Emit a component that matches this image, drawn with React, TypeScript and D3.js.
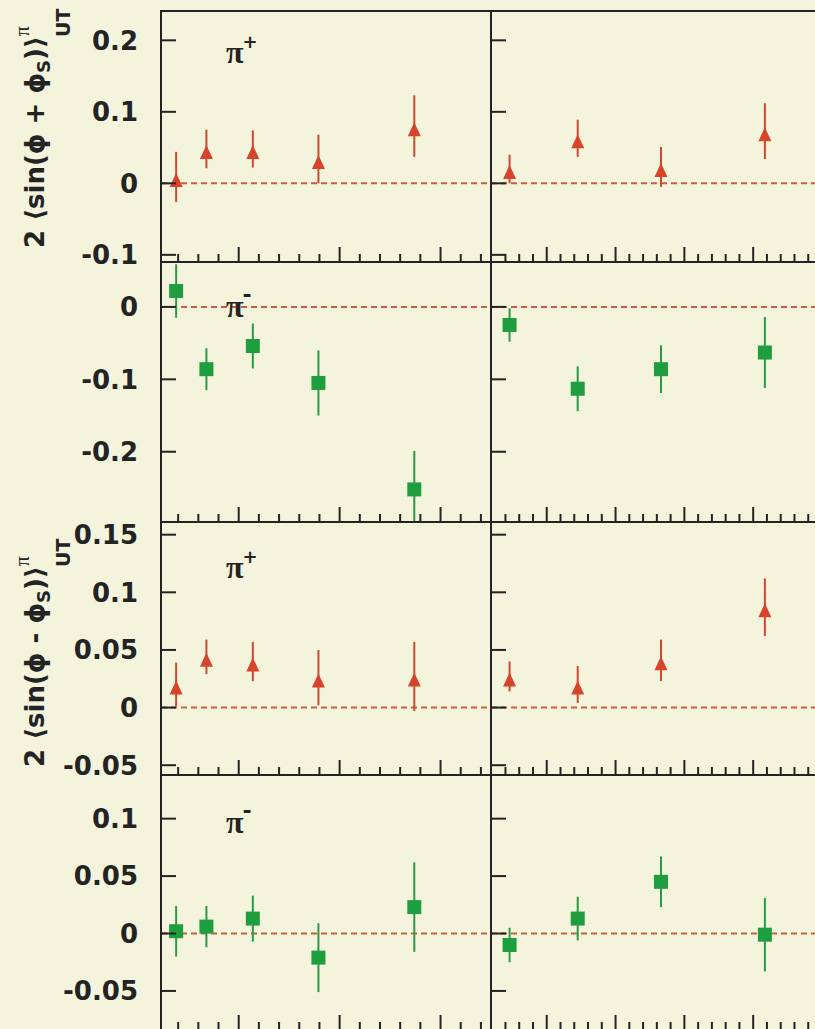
import React from 'react';
import * as d3 from 'd3';

// ---- data ----
const xBins = [0.038, 0.068, 0.114, 0.179, 0.274];
const zBins = [0.246, 0.345, 0.466, 0.617];

const collinsPipX = [0.009, 0.048, 0.048, 0.034, 0.080];
const collinsPipXErr = [0.035, 0.027, 0.026, 0.034, 0.043];
const collinsPipZ = [0.020, 0.063, 0.023, 0.073];
const collinsPipZErr = [0.020, 0.026, 0.028, 0.039];

const collinsPimX = [0.022, -0.086, -0.054, -0.105, -0.252];
const collinsPimXErr = [0.037, 0.029, 0.031, 0.045, 0.053];
const collinsPimZ = [-0.025, -0.113, -0.086, -0.063];
const collinsPimZErr = [0.023, 0.031, 0.033, 0.049];

const siversPipX = [0.020, 0.044, 0.040, 0.026, 0.027];
const siversPipXErr = [0.019, 0.015, 0.017, 0.024, 0.030];
const siversPipZ = [0.027, 0.020, 0.041, 0.087];
const siversPipZErr = [0.013, 0.016, 0.018, 0.025];

const siversPimX = [0.002, 0.006, 0.013, -0.021, 0.023];
const siversPimXErr = [0.022, 0.018, 0.020, 0.030, 0.039];
const siversPimZ = [-0.010, 0.013, 0.045, -0.001];
const siversPimZErr = [0.015, 0.019, 0.022, 0.032];

const xDomain = [0.023, 0.35];
const zDomain = [0.219, 0.70];
const xMajorTicks = [0.1, 0.2, 0.3];
const xMinorTicks = [0.04, 0.06, 0.08, 0.12, 0.14, 0.16, 0.18, 0.22, 0.24, 0.26, 0.28, 0.32, 0.34];
const zMajorTicks = [0.3, 0.4, 0.5, 0.6, 0.7];
const zMinorTicks = [0.24, 0.26, 0.28, 0.32, 0.34, 0.36, 0.38, 0.42, 0.44, 0.46, 0.48, 0.52, 0.54, 0.56, 0.58, 0.62, 0.64, 0.66, 0.68];

const rowDomains = [[-0.110, 0.241], [-0.297, 0.062], [-0.0585, 0.161], [-0.084, 0.138]];
const rowTicks = [[0.2, 0.1, 0, -0.1], [0, -0.1, -0.2], [0.15, 0.1, 0.05, 0, -0.05], [0.1, 0.05, 0, -0.05]];
const rowTickLabels = [
  ['0.2', '0.1', '0', '-0.1'],
  ['0', '-0.1', '-0.2'],
  ['0.15', '0.1', '0.05', '0', '-0.05'],
  ['0.1', '0.05', '0', '-0.05'],
];
const rowPion = ['+', '-', '+', '-'];
const rowValuesX = [collinsPipX, collinsPimX, siversPipX, siversPimX];
const rowErrsX = [collinsPipXErr, collinsPimXErr, siversPipXErr, siversPimXErr];
const rowValuesZ = [collinsPipZ, collinsPimZ, siversPipZ, siversPimZ];
const rowErrsZ = [collinsPipZErr, collinsPimZErr, siversPipZErr, siversPimZErr];

// ---- layout ----
const W = 815;
const H = 1029;
const rowTop = [11, 262, 522, 775];
const rowBottom = [262, 522, 775, 1030];
const labelBaseline = [52, 55, 56, 58];
const colLeft = [161, 491];
const colRight = [491, 822];

const BG = '#f4f4dd';
const INK = '#232323';
const RED = '#d8432a';
const RED_BAR = '#cc4a2f';
const GREEN = '#1e9e3e';
const GREEN_BAR = '#2b9a45';
const ZERO = '#c8603f';

function Panel({ row, col }: { row: number; col: number }) {
  const x0 = colLeft[col];
  const x1 = colRight[col];
  const y0 = rowTop[row];
  const y1 = rowBottom[row];
  const xs = d3.scaleLinear().domain(col === 0 ? xDomain : zDomain).range([x0, x1]);
  const ys = d3.scaleLinear().domain(rowDomains[row]).range([y1, y0]);
  const bins = col === 0 ? xBins : zBins;
  const vals = col === 0 ? rowValuesX[row] : rowValuesZ[row];
  const errs = col === 0 ? rowErrsX[row] : rowErrsZ[row];
  const majors = col === 0 ? xMajorTicks : zMajorTicks;
  const minors = col === 0 ? xMinorTicks : zMinorTicks;
  const plus = rowPion[row] === '+';
  const clipId = `clip-${row}-${col}`;
  return (
    <g>
      <defs>
        <clipPath id={clipId}>
          <rect x={x0} y={y0} width={x1 - x0} height={y1 - y0} />
        </clipPath>
      </defs>
      <g clipPath={`url(#${clipId})`}>
        <line x1={x0} x2={x1} y1={ys(0)} y2={ys(0)} stroke={ZERO} strokeWidth={2} strokeDasharray="6,4" />
        {bins.map((b, i) => (
          <line key={'e' + i} x1={xs(b)} x2={xs(b)} y1={ys(vals[i] + errs[i])} y2={ys(vals[i] - errs[i])}
            stroke={plus ? RED_BAR : GREEN_BAR} strokeWidth={2} />
        ))}
        {bins.map((b, i) => {
          const cx = xs(b);
          const cy = ys(vals[i]);
          return plus ? (
            <path key={'m' + i} d={`M${cx},${cy - 4}L${cx + 6.5},${cy + 10}L${cx - 6.5},${cy + 10}Z`} fill={RED} />
          ) : (
            <rect key={'m' + i} x={cx - 7} y={cy - 7} width={14} height={14} fill={GREEN} />
          );
        })}
      </g>
      {rowTicks[row].map((t, i) => (
        <line key={'yt' + i} x1={x0} x2={x0 + 15} y1={ys(t)} y2={ys(t)} stroke={INK} strokeWidth={2} />
      ))}
      {majors.map((t, i) => (
        <line key={'xM' + i} x1={xs(t)} x2={xs(t)} y1={y1} y2={y1 - 15} stroke={INK} strokeWidth={2} />
      ))}
      {minors.map((t, i) => (
        <line key={'xm' + i} x1={xs(t)} x2={xs(t)} y1={y1} y2={y1 - 8} stroke={INK} strokeWidth={2} />
      ))}
      <rect x={x0} y={y0} width={x1 - x0} height={y1 - y0} fill="none" stroke={INK} strokeWidth={2} />
      {col === 0 &&
        rowTicks[row].map((t, i) => (
          <text key={'yl' + i} x={138} y={ys(t)} dy="0.36em" textAnchor="end"
            fontFamily="DejaVu Sans" fontWeight="bold" fontSize={26} fill={INK}>
            {rowTickLabels[row][i]}
          </text>
        ))}
      {col === 0 && (
        <text x={226} y={y0 + labelBaseline[row]} fontFamily="Liberation Serif" fontWeight="bold" fontSize={32} fill={INK}>
          π
          <tspan dx={-1} dy={-15} fontFamily="DejaVu Sans" fontWeight="bold" fontSize={plus ? 18 : 22}>
            {plus ? '+' : '-'}
          </tspan>
        </text>
      )}
    </g>
  );
}

function Title({ y, sign }: { y: number; sign: string }) {
  return (
    <g transform={`translate(44,${y}) rotate(-90)`}>
      <text x={0} y={0} fontFamily="DejaVu Sans" fontWeight="bold" fontSize={26} fill={INK}>
        {`2 \u27E8sin(\u03D5 ${sign} \u03D5`}
        <tspan fontSize={18} dy={6}>S</tspan>
        <tspan dy={-6}>{')\u27E9'}</tspan>
        <tspan fontFamily="Liberation Serif" fontWeight="normal" fontSize={20} dy={-15}>π</tspan>
        <tspan fontSize={19} dx={-11} dy={41}>UT</tspan>
      </text>
    </g>
  );
}

export default function App() {
  return (
    <svg width={W} height={H} style={{ position: 'absolute', left: 0, top: 0 }} xmlns="http://www.w3.org/2000/svg">
      <rect x={0} y={0} width={W} height={H} fill={BG} />
      {[0, 1, 2, 3].map((r) => (
        <g key={r}>
          <Panel row={r} col={0} />
          <Panel row={r} col={1} />
        </g>
      ))}
      <Title y={248} sign="+" />
      <Title y={767} sign="-" />
    </svg>
  );
}
